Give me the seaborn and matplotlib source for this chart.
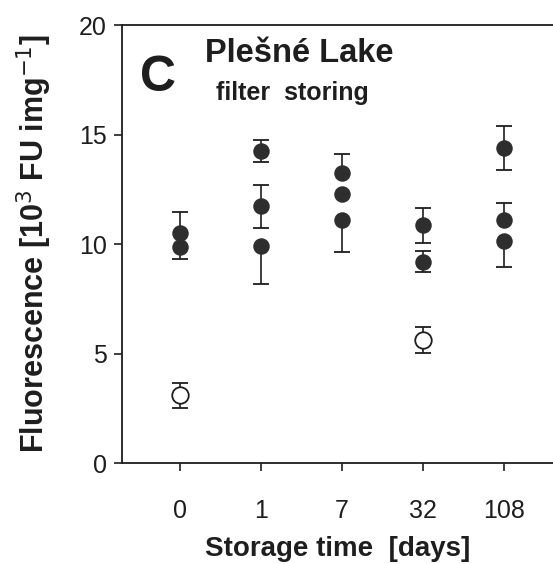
import numpy as np
import pandas as pd
import matplotlib
matplotlib.use("Agg")
import matplotlib.pyplot as plt
import seaborn as sns

# ---- data ----
days = ["0", "1", "7", "32", "108"]

filled_day = ["0", "0", "1", "1", "1", "7", "7", "7", "32", "32", "108", "108", "108"]
filled_val = [10.5, 9.88, 14.26, 11.73, 9.91, 13.23, 12.27, 11.1, 10.85, 9.19, 14.37, 11.1, 10.14]
# NaN = error bar side hidden behind neighbouring dot in the original
filled_err_lo = [np.nan, 0.58, 0.5, 0.99, 1.75, np.nan, np.nan, 1.45, 0.78, 0.47, 1.0, np.nan, 1.2]
filled_err_hi = [0.95, np.nan, 0.5, 0.95, np.nan, 0.87, np.nan, np.nan, 0.78, 0.47, 1.0, 0.76, np.nan]

open_day = ["0", "32"]
open_val = [3.1, 5.62]
open_err = [0.57, 0.6]

y_ticks = [0, 5, 10, 15, 20]

# ---- figure ----
sns.set_theme(style="ticks")
plt.rcParams["font.family"] = ["Liberation Sans", "DejaVu Sans"]

fig = plt.figure(figsize=(5.53, 5.64), dpi=100)
ax = fig.add_axes([0.2206, 0.179, 0.7794, 0.7766])

df_f = pd.DataFrame({"day": filled_day, "val": filled_val,
                     "lo": filled_err_lo, "hi": filled_err_hi})
df_o = pd.DataFrame({"day": open_day, "val": open_val, "lo": open_err, "hi": open_err})
pos = {d: i for i, d in enumerate(days)}

ink = "#1e1e1e"
# error bars: draw lower and upper halves separately so hidden sides are skipped
for df in (df_f, df_o):
    for side in ("lo", "hi"):
        sub = df[df[side].notna()]
        if sub.empty:
            continue
        xs = [pos[d] for d in sub["day"]]
        ax.vlines(xs, sub["val"], sub["val"] + (sub[side] if side == "hi" else -sub[side]),
                  color=ink, linewidth=1.2, zorder=2)
        ends = sub["val"] + (sub[side] if side == "hi" else -sub[side])
        ax.plot(xs, ends, linestyle="none", marker="_", markersize=11.5,
                markeredgewidth=1.3, color=ink, zorder=2)

n_before = len(ax.collections)
msize = 16.5 / 1.389
sns.stripplot(data=df_f, x="day", y="val", order=days, jitter=False,
              color="#2e2e2e", size=msize, linewidth=0, ax=ax)
sns.stripplot(data=df_o, x="day", y="val", order=days, jitter=False,
              color="white", edgecolor=ink, size=msize,
              linewidth=1.3, ax=ax)
for c in ax.collections[n_before:]:
    c.set_zorder(5)

ax.set_xlim(-0.716, 4.605)
ax.set_ylim(0, 20)
ax.set_yticks(y_ticks)
ax.set_xticks(range(len(days)))
ax.set_xticklabels(days)

for s in ("left", "bottom", "top"):
    ax.spines[s].set_linewidth(1.3)
    ax.spines[s].set_color(ink)
ax.spines["right"].set_visible(False)
ax.tick_params(axis="both", direction="out", length=6, width=1.2,
               color=ink, labelsize=18, labelcolor=ink)
ax.tick_params(axis="y", pad=5)
ax.tick_params(axis="x", pad=20)

ax.set_xlabel("Storage time  [days]", fontsize=20, fontweight="bold",
              color=ink, labelpad=9)
ax.set_ylabel(r"Fluorescence [10$^{3}$ FU img$^{-1}$]", fontsize=22,
              fontweight="bold", color=ink, labelpad=18)

ax.text(0.042, 0.85, "C", transform=ax.transAxes, fontsize=36,
        fontweight="bold", color=ink, ha="left", va="baseline")
ax.text(0.193, 0.9155, "Plešné Lake", transform=ax.transAxes, fontsize=23.5,
        fontweight="bold", color=ink, ha="left", va="baseline")
ax.text(0.218, 0.829, "filter  storing", transform=ax.transAxes, fontsize=18,
        fontweight="bold", color=ink, ha="left", va="baseline")

fig.savefig("out.png", dpi=100)
